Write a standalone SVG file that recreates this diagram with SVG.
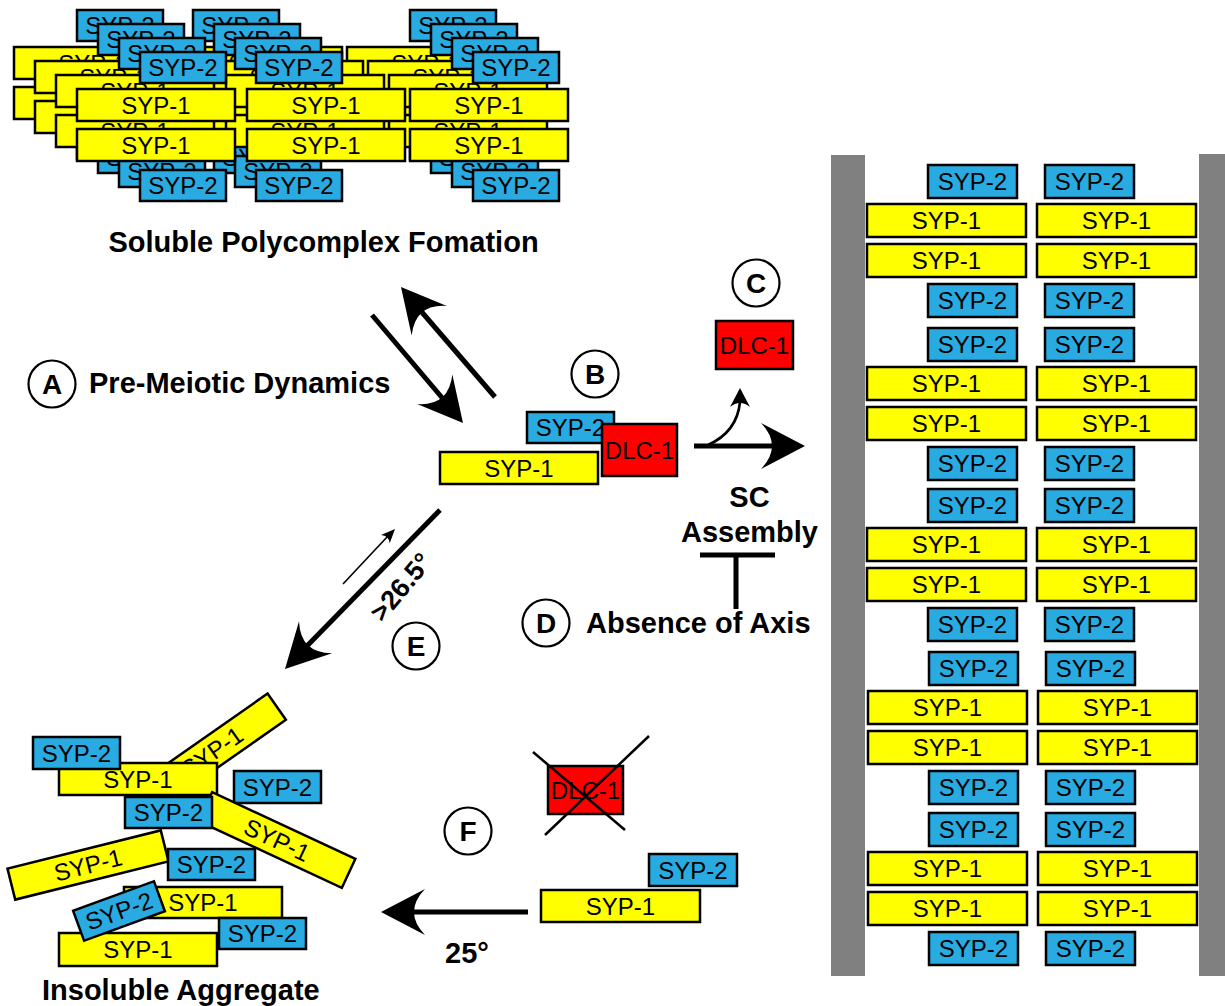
<svg xmlns="http://www.w3.org/2000/svg" xmlns:xlink="http://www.w3.org/1999/xlink" width="1225" height="1006" viewBox="0 0 1225 1006">
<style>
.y{fill:#FFFF00;stroke:#000;stroke-width:2.5}
.b{fill:#29ABE2;stroke:#000;stroke-width:2.5}
.r{fill:#FF0000;stroke:#000;stroke-width:2.5}
.t{font-family:"Liberation Sans",Arial,Helvetica,sans-serif;font-size:24px;text-anchor:middle;fill:#000}
.lb{font-family:"Liberation Sans",Arial,Helvetica,sans-serif;font-size:29px;font-weight:bold;fill:#000}
.cl{font-family:"Liberation Sans",Arial,Helvetica,sans-serif;font-size:28px;font-weight:bold;text-anchor:middle;fill:#000}
.c{fill:#fff;stroke:#000;stroke-width:2.2}
.ln{fill:none;stroke:#000;stroke-width:5}
.thin{fill:none;stroke:#000;stroke-width:1.6}
.gr{fill:#808080}
</style>
<defs>
<path id="ah" d="M0,0 L-44,-23 Q-22,0 -44,23 Z" fill="#000"/>
<path id="ahs" d="M0,0 L-19,-10 Q-11,0 -19,10 Z" fill="#000"/>
<path id="aht" d="M0,0 L-14,-6 Q-9,0 -14,6 Z" fill="#000"/>
</defs>

<!-- Soluble polycomplex (layered stacks) -->
<g id="polycomplex">
<g id="pc-layer0" transform="translate(-63,-42)">
<g id="pc0-l-s2a"><rect class="b" x="140" y="52" width="86" height="31"/><text class="t" x="183" y="76">SYP-2</text></g>
<g id="pc0-l-s1a"><rect class="y" x="77" y="89" width="158" height="32"/><text class="t" x="156" y="113.5">SYP-1</text></g>
<g id="pc0-l-s1b"><rect class="y" x="77" y="129" width="158" height="32"/><text class="t" x="156" y="153.5">SYP-1</text></g>
<g id="pc0-l-s2b"><rect class="b" x="140" y="170" width="86" height="31"/><text class="t" x="183" y="194">SYP-2</text></g>
<g id="pc0-m-s2a"><rect class="b" x="256" y="52" width="86" height="31"/><text class="t" x="299" y="76">SYP-2</text></g>
<g id="pc0-m-s1a"><rect class="y" x="247" y="89" width="158" height="32"/><text class="t" x="326" y="113.5">SYP-1</text></g>
<g id="pc0-m-s1b"><rect class="y" x="247" y="129" width="158" height="32"/><text class="t" x="326" y="153.5">SYP-1</text></g>
<g id="pc0-m-s2b"><rect class="b" x="256" y="170" width="86" height="31"/><text class="t" x="299" y="194">SYP-2</text></g>
<g id="pc0-r-s2a"><rect class="b" x="473" y="52" width="86" height="31"/><text class="t" x="516" y="76">SYP-2</text></g>
<g id="pc0-r-s1a"><rect class="y" x="410" y="89" width="158" height="32"/><text class="t" x="489" y="113.5">SYP-1</text></g>
<g id="pc0-r-s1b"><rect class="y" x="410" y="129" width="158" height="32"/><text class="t" x="489" y="153.5">SYP-1</text></g>
<g id="pc0-r-s2b"><rect class="b" x="473" y="170" width="86" height="31"/><text class="t" x="516" y="194">SYP-2</text></g>
</g>
<g id="pc-layer1" transform="translate(-42,-28)">
<g id="pc1-l-s2a"><rect class="b" x="140" y="52" width="86" height="31"/><text class="t" x="183" y="76">SYP-2</text></g>
<g id="pc1-l-s1a"><rect class="y" x="77" y="89" width="158" height="32"/><text class="t" x="156" y="113.5">SYP-1</text></g>
<g id="pc1-l-s1b"><rect class="y" x="77" y="129" width="158" height="32"/><text class="t" x="156" y="153.5">SYP-1</text></g>
<g id="pc1-l-s2b"><rect class="b" x="140" y="170" width="86" height="31"/><text class="t" x="183" y="194">SYP-2</text></g>
<g id="pc1-m-s2a"><rect class="b" x="256" y="52" width="86" height="31"/><text class="t" x="299" y="76">SYP-2</text></g>
<g id="pc1-m-s1a"><rect class="y" x="247" y="89" width="158" height="32"/><text class="t" x="326" y="113.5">SYP-1</text></g>
<g id="pc1-m-s1b"><rect class="y" x="247" y="129" width="158" height="32"/><text class="t" x="326" y="153.5">SYP-1</text></g>
<g id="pc1-m-s2b"><rect class="b" x="256" y="170" width="86" height="31"/><text class="t" x="299" y="194">SYP-2</text></g>
<g id="pc1-r-s2a"><rect class="b" x="473" y="52" width="86" height="31"/><text class="t" x="516" y="76">SYP-2</text></g>
<g id="pc1-r-s1a"><rect class="y" x="410" y="89" width="158" height="32"/><text class="t" x="489" y="113.5">SYP-1</text></g>
<g id="pc1-r-s1b"><rect class="y" x="410" y="129" width="158" height="32"/><text class="t" x="489" y="153.5">SYP-1</text></g>
<g id="pc1-r-s2b"><rect class="b" x="473" y="170" width="86" height="31"/><text class="t" x="516" y="194">SYP-2</text></g>
</g>
<g id="pc-layer2" transform="translate(-21,-14)">
<g id="pc2-l-s2a"><rect class="b" x="140" y="52" width="86" height="31"/><text class="t" x="183" y="76">SYP-2</text></g>
<g id="pc2-l-s1a"><rect class="y" x="77" y="89" width="158" height="32"/><text class="t" x="156" y="113.5">SYP-1</text></g>
<g id="pc2-l-s1b"><rect class="y" x="77" y="129" width="158" height="32"/><text class="t" x="156" y="153.5">SYP-1</text></g>
<g id="pc2-l-s2b"><rect class="b" x="140" y="170" width="86" height="31"/><text class="t" x="183" y="194">SYP-2</text></g>
<g id="pc2-m-s2a"><rect class="b" x="256" y="52" width="86" height="31"/><text class="t" x="299" y="76">SYP-2</text></g>
<g id="pc2-m-s1a"><rect class="y" x="247" y="89" width="158" height="32"/><text class="t" x="326" y="113.5">SYP-1</text></g>
<g id="pc2-m-s1b"><rect class="y" x="247" y="129" width="158" height="32"/><text class="t" x="326" y="153.5">SYP-1</text></g>
<g id="pc2-m-s2b"><rect class="b" x="256" y="170" width="86" height="31"/><text class="t" x="299" y="194">SYP-2</text></g>
<g id="pc2-r-s2a"><rect class="b" x="473" y="52" width="86" height="31"/><text class="t" x="516" y="76">SYP-2</text></g>
<g id="pc2-r-s1a"><rect class="y" x="410" y="89" width="158" height="32"/><text class="t" x="489" y="113.5">SYP-1</text></g>
<g id="pc2-r-s1b"><rect class="y" x="410" y="129" width="158" height="32"/><text class="t" x="489" y="153.5">SYP-1</text></g>
<g id="pc2-r-s2b"><rect class="b" x="473" y="170" width="86" height="31"/><text class="t" x="516" y="194">SYP-2</text></g>
</g>
<g id="pc-layer3">
<g id="pc3-l-s2a"><rect class="b" x="140" y="52" width="86" height="31"/><text class="t" x="183" y="76">SYP-2</text></g>
<g id="pc3-l-s1a"><rect class="y" x="77" y="89" width="158" height="32"/><text class="t" x="156" y="113.5">SYP-1</text></g>
<g id="pc3-l-s1b"><rect class="y" x="77" y="129" width="158" height="32"/><text class="t" x="156" y="153.5">SYP-1</text></g>
<g id="pc3-l-s2b"><rect class="b" x="140" y="170" width="86" height="31"/><text class="t" x="183" y="194">SYP-2</text></g>
<g id="pc3-m-s2a"><rect class="b" x="256" y="52" width="86" height="31"/><text class="t" x="299" y="76">SYP-2</text></g>
<g id="pc3-m-s1a"><rect class="y" x="247" y="89" width="158" height="32"/><text class="t" x="326" y="113.5">SYP-1</text></g>
<g id="pc3-m-s1b"><rect class="y" x="247" y="129" width="158" height="32"/><text class="t" x="326" y="153.5">SYP-1</text></g>
<g id="pc3-m-s2b"><rect class="b" x="256" y="170" width="86" height="31"/><text class="t" x="299" y="194">SYP-2</text></g>
<g id="pc3-r-s2a"><rect class="b" x="473" y="52" width="86" height="31"/><text class="t" x="516" y="76">SYP-2</text></g>
<g id="pc3-r-s1a"><rect class="y" x="410" y="89" width="158" height="32"/><text class="t" x="489" y="113.5">SYP-1</text></g>
<g id="pc3-r-s1b"><rect class="y" x="410" y="129" width="158" height="32"/><text class="t" x="489" y="153.5">SYP-1</text></g>
<g id="pc3-r-s2b"><rect class="b" x="473" y="170" width="86" height="31"/><text class="t" x="516" y="194">SYP-2</text></g>
</g>
</g>

<!-- Labels -->
<g id="label-soluble"><text class="lb" x="323.5" y="252" text-anchor="middle">Soluble Polycomplex Fomation</text></g>
<g id="label-A"><circle class="c" cx="52" cy="384" r="23.5"/><text class="cl" x="52" y="394">A</text><text class="lb" x="89" y="393">Pre-Meiotic Dynamics</text></g>
<g id="label-B"><circle class="c" cx="595" cy="374" r="23.5"/><text class="cl" x="595" y="384">B</text></g>
<g id="label-C"><circle class="c" cx="756" cy="283" r="23.5"/><text class="cl" x="756" y="293">C</text></g>
<g id="label-SC"><text class="lb" x="749.5" y="507" text-anchor="middle">SC</text><text class="lb" x="749.5" y="542" text-anchor="middle">Assembly</text></g>
<g id="label-D"><circle class="c" cx="546" cy="623" r="23.5"/><text class="cl" x="546" y="633">D</text><text class="lb" x="586" y="633">Absence of Axis</text></g>
<g id="label-E"><circle class="c" cx="416" cy="646" r="23.5"/><text class="cl" x="416" y="656">E</text></g>
<g id="label-angle1"><text class="lb" style="font-size:27px" text-anchor="middle" transform="translate(408,593) rotate(-50)">&gt;26.5°</text></g>
<g id="label-F"><circle class="c" cx="468" cy="831" r="23.5"/><text class="cl" x="468" y="841">F</text></g>
<g id="label-angle2"><text class="lb" x="467" y="963" text-anchor="middle">25°</text></g>
<g id="label-insoluble"><text class="lb" x="42" y="1000">Insoluble Aggregate</text></g>

<!-- Connectors -->
<g id="connectors">
<line class="ln" x1="372" y1="315" x2="444" y2="400"/>
<use xlink:href="#ah" href="#ah" transform="translate(463,423) rotate(50)"/>
<line class="ln" x1="495" y1="397" x2="420" y2="310"/>
<use xlink:href="#ah" href="#ah" transform="translate(401,287) rotate(-130)"/>
<line class="ln" x1="694" y1="446" x2="775" y2="446"/>
<use xlink:href="#ah" href="#ah" transform="translate(805,446)"/>
<path class="thin" style="stroke-width:2.6" d="M708,445 Q737,432 740,402"/>
<use xlink:href="#ahs" href="#ahs" transform="translate(740,388) rotate(-90)"/>
<line class="ln" x1="700" y1="555" x2="775" y2="555"/>
<line class="ln" x1="736" y1="555" x2="736" y2="609"/>
<line class="ln" x1="440" y1="510" x2="306" y2="647"/>
<use xlink:href="#ah" href="#ah" transform="translate(285,669) rotate(134)"/>
<line class="thin" x1="343" y1="584" x2="388" y2="536"/>
<use xlink:href="#aht" href="#aht" transform="translate(395,529) rotate(-46.6)"/>
<line class="ln" x1="528" y1="912" x2="411" y2="912"/>
<use xlink:href="#ah" href="#ah" transform="translate(381,912) rotate(180)"/>
</g>

<!-- B complex -->
<g id="complexB">
<g id="b-syp2"><rect class="b" x="527" y="412" width="87" height="31"/><text class="t" x="570.5" y="436">SYP-2</text></g>
<g id="b-syp1"><rect class="y" x="440" y="452" width="158" height="32"/><text class="t" x="519" y="476.5">SYP-1</text></g>
<g id="b-dlc1"><rect class="r" x="602" y="424" width="75" height="52"/><text class="t" x="639.5" y="458.5">DLC-1</text></g>
</g>
<g id="c-dlc1"><rect class="r" x="716" y="321" width="77" height="48"/><text class="t" x="754.5" y="353.5">DLC-1</text></g>

<!-- F complex -->
<g id="f-dlc1"><rect class="r" x="548" y="766" width="75" height="48"/><text class="t" x="585.5" y="798.5">DLC-1</text>
<line x1="533" y1="752" x2="625" y2="830" stroke="#000" stroke-width="2.5"/>
<line x1="545" y1="835" x2="649" y2="736" stroke="#000" stroke-width="2.5"/></g>
<g id="f-syp2"><rect class="b" x="649" y="854" width="88" height="32"/><text class="t" x="693" y="878.5">SYP-2</text></g>
<g id="f-syp1"><rect class="y" x="541" y="890" width="159" height="32"/><text class="t" x="620.5" y="914.5">SYP-1</text></g>

<!-- Insoluble aggregate -->
<g id="aggregate">
<g id="ag1" transform="translate(212,752) rotate(-35)"><rect class="y" x="-79" y="-16" width="158" height="32"/><text class="t" x="0" y="8.5">SYP-1</text></g>
<g id="ag2"><rect class="y" x="59" y="763" width="158" height="32"/><text class="t" x="138" y="787.5">SYP-1</text></g>
<g id="ag3"><rect class="b" x="33" y="737" width="87" height="32"/><text class="t" x="76.5" y="761.5">SYP-2</text></g>
<g id="ag4"><rect class="b" x="234" y="771" width="87" height="32"/><text class="t" x="277.5" y="795.5">SYP-2</text></g>
<g id="ag5" transform="translate(277,840) rotate(25)"><rect class="y" x="-79" y="-16" width="158" height="32"/><text class="t" x="0" y="8.5">SYP-1</text></g>
<g id="ag6"><rect class="b" x="125" y="797" width="87" height="31"/><text class="t" x="168.5" y="821">SYP-2</text></g>
<g id="ag7" transform="translate(88,865) rotate(-14)"><rect class="y" x="-79" y="-16" width="158" height="32"/><text class="t" x="0" y="8.5">SYP-1</text></g>
<g id="ag8"><rect class="b" x="168" y="849" width="87" height="31"/><text class="t" x="211.5" y="873">SYP-2</text></g>
<g id="ag9"><rect class="y" x="124" y="887" width="158" height="31"/><text class="t" x="203" y="911">SYP-1</text></g>
<g id="ag10"><rect class="y" x="59" y="933" width="158" height="33"/><text class="t" x="138" y="958">SYP-1</text></g>
<g id="ag11" transform="translate(119,911) rotate(-20)"><rect class="b" x="-43" y="-16" width="86" height="32"/><text class="t" x="0" y="8.5">SYP-2</text></g>
<g id="ag12"><rect class="b" x="219" y="918" width="87" height="31"/><text class="t" x="262.5" y="942">SYP-2</text></g>
</g>

<!-- Synaptonemal complex -->
<g id="axis-left"><rect class="gr" x="831" y="155" width="34" height="821"/></g>
<g id="axis-right"><rect class="gr" x="1199" y="154" width="26" height="822"/></g>
<g id="sc-unit1" transform="translate(0,165)">
<g><rect class="b" x="928" y="0" width="89" height="33"/><text class="t" x="972.5" y="25">SYP-2</text></g>
<g><rect class="b" x="1045" y="0" width="89" height="33"/><text class="t" x="1089.5" y="25">SYP-2</text></g>
<g><rect class="y" x="867" y="39" width="159" height="33"/><text class="t" x="946.5" y="64">SYP-1</text></g>
<g><rect class="y" x="1037" y="39" width="159" height="33"/><text class="t" x="1116.5" y="64">SYP-1</text></g>
<g><rect class="y" x="867" y="79" width="159" height="33"/><text class="t" x="946.5" y="104">SYP-1</text></g>
<g><rect class="y" x="1037" y="79" width="159" height="33"/><text class="t" x="1116.5" y="104">SYP-1</text></g>
<g><rect class="b" x="928" y="119" width="89" height="33"/><text class="t" x="972.5" y="144">SYP-2</text></g>
<g><rect class="b" x="1045" y="119" width="89" height="33"/><text class="t" x="1089.5" y="144">SYP-2</text></g>
</g>
<g id="sc-unit2" transform="translate(0,328)">
<g><rect class="b" x="928" y="0" width="89" height="33"/><text class="t" x="972.5" y="25">SYP-2</text></g>
<g><rect class="b" x="1045" y="0" width="89" height="33"/><text class="t" x="1089.5" y="25">SYP-2</text></g>
<g><rect class="y" x="867" y="39" width="159" height="33"/><text class="t" x="946.5" y="64">SYP-1</text></g>
<g><rect class="y" x="1037" y="39" width="159" height="33"/><text class="t" x="1116.5" y="64">SYP-1</text></g>
<g><rect class="y" x="867" y="79" width="159" height="33"/><text class="t" x="946.5" y="104">SYP-1</text></g>
<g><rect class="y" x="1037" y="79" width="159" height="33"/><text class="t" x="1116.5" y="104">SYP-1</text></g>
<g><rect class="b" x="928" y="119" width="89" height="33"/><text class="t" x="972.5" y="144">SYP-2</text></g>
<g><rect class="b" x="1045" y="119" width="89" height="33"/><text class="t" x="1089.5" y="144">SYP-2</text></g>
</g>
<g id="sc-unit3" transform="translate(0,489)">
<g><rect class="b" x="928" y="0" width="89" height="33"/><text class="t" x="972.5" y="25">SYP-2</text></g>
<g><rect class="b" x="1045" y="0" width="89" height="33"/><text class="t" x="1089.5" y="25">SYP-2</text></g>
<g><rect class="y" x="867" y="39" width="159" height="33"/><text class="t" x="946.5" y="64">SYP-1</text></g>
<g><rect class="y" x="1037" y="39" width="159" height="33"/><text class="t" x="1116.5" y="64">SYP-1</text></g>
<g><rect class="y" x="867" y="79" width="159" height="33"/><text class="t" x="946.5" y="104">SYP-1</text></g>
<g><rect class="y" x="1037" y="79" width="159" height="33"/><text class="t" x="1116.5" y="104">SYP-1</text></g>
<g><rect class="b" x="928" y="119" width="89" height="33"/><text class="t" x="972.5" y="144">SYP-2</text></g>
<g><rect class="b" x="1045" y="119" width="89" height="33"/><text class="t" x="1089.5" y="144">SYP-2</text></g>
</g>
<g id="sc-unit4" transform="translate(1,652)">
<g><rect class="b" x="928" y="0" width="89" height="33"/><text class="t" x="972.5" y="25">SYP-2</text></g>
<g><rect class="b" x="1045" y="0" width="89" height="33"/><text class="t" x="1089.5" y="25">SYP-2</text></g>
<g><rect class="y" x="867" y="39" width="159" height="33"/><text class="t" x="946.5" y="64">SYP-1</text></g>
<g><rect class="y" x="1037" y="39" width="159" height="33"/><text class="t" x="1116.5" y="64">SYP-1</text></g>
<g><rect class="y" x="867" y="79" width="159" height="33"/><text class="t" x="946.5" y="104">SYP-1</text></g>
<g><rect class="y" x="1037" y="79" width="159" height="33"/><text class="t" x="1116.5" y="104">SYP-1</text></g>
<g><rect class="b" x="928" y="119" width="89" height="33"/><text class="t" x="972.5" y="144">SYP-2</text></g>
<g><rect class="b" x="1045" y="119" width="89" height="33"/><text class="t" x="1089.5" y="144">SYP-2</text></g>
</g>
<g id="sc-unit5" transform="translate(1,813)">
<g><rect class="b" x="928" y="0" width="89" height="33"/><text class="t" x="972.5" y="25">SYP-2</text></g>
<g><rect class="b" x="1045" y="0" width="89" height="33"/><text class="t" x="1089.5" y="25">SYP-2</text></g>
<g><rect class="y" x="867" y="39" width="159" height="33"/><text class="t" x="946.5" y="64">SYP-1</text></g>
<g><rect class="y" x="1037" y="39" width="159" height="33"/><text class="t" x="1116.5" y="64">SYP-1</text></g>
<g><rect class="y" x="867" y="79" width="159" height="33"/><text class="t" x="946.5" y="104">SYP-1</text></g>
<g><rect class="y" x="1037" y="79" width="159" height="33"/><text class="t" x="1116.5" y="104">SYP-1</text></g>
<g><rect class="b" x="928" y="119" width="89" height="33"/><text class="t" x="972.5" y="144">SYP-2</text></g>
<g><rect class="b" x="1045" y="119" width="89" height="33"/><text class="t" x="1089.5" y="144">SYP-2</text></g>
</g>
</svg>
